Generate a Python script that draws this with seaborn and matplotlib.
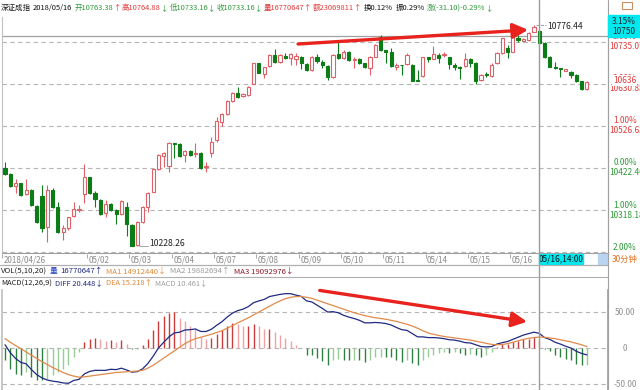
import numpy as np
import pandas as pd
import seaborn as sns
import matplotlib.pyplot as plt
import matplotlib.transforms as mtransforms
from matplotlib.lines import Line2D
from matplotlib.patches import Rectangle

sns.set_theme(style="white")
plt.rcParams['font.family'] = ['Noto Sans CJK SC', 'DejaVu Sans']
plt.rcParams['axes.unicode_minus'] = False

# 30-minute bars, 2018/04/26 .. 2018/05/17
opens = [10422, 10408, 10378, 10384, 10358, 10368, 10328, 10353, 10277, 10369,
         10325, 10263, 10273, 10304, 10318, 10358, 10399, 10361, 10343, 10310,
         10333, 10318, 10308, 10326, 10281, 10232, 10289, 10326, 10364, 10419,
         10452, 10427, 10484, 10482, 10455, 10465, 10457, 10460, 10424, 10460,
         10492, 10537, 10556, 10589, 10609, 10600, 10604, 10632, 10682, 10656,
         10676, 10703, 10686, 10701, 10695, 10692, 10699, 10680, 10666, 10697,
         10686, 10676, 10647, 10705, 10695, 10711, 10690, 10694, 10682, 10670,
         10699, 10748, 10714, 10711, 10674, 10678, 10680, 10678, 10641, 10651,
         10697, 10694, 10703, 10702, 10697, 10678, 10674, 10676, 10692, 10684,
         10641, 10655, 10651, 10682, 10707, 10719, 10711, 10744, 10738, 10740,
         10761, 10763.38, 10732, 10699, 10674, 10670, 10664, 10661, 10653, 10637,
         10618]
highs = [10438, 10410, 10394, 10386, 10394, 10370, 10330, 10380, 10380, 10372,
         10339, 10281, 10302, 10339, 10331, 10432, 10401, 10366, 10345, 10343,
         10336, 10320, 10343, 10339, 10283, 10291, 10328, 10362, 10421, 10457,
         10461, 10488, 10485, 10484, 10466, 10468, 10484, 10462, 10438, 10500,
         10550, 10558, 10591, 10611, 10624, 10608, 10626, 10684, 10684, 10674,
         10705, 10717, 10705, 10707, 10707, 10707, 10700, 10682, 10701, 10705,
         10690, 10678, 10705, 10740, 10715, 10713, 10697, 10696, 10684, 10700,
         10730, 10752, 10716, 10719, 10684, 10679, 10707, 10680, 10665, 10699,
         10699, 10724, 10707, 10709, 10699, 10682, 10675, 10707, 10695, 10686,
         10655, 10661, 10682, 10709, 10746, 10728, 10749, 10752, 10745, 10759,
         10776.44, 10764.88, 10734, 10701, 10686, 10671, 10669, 10663, 10655, 10639,
         10638]
lows = [10404, 10375, 10360, 10353, 10355, 10328, 10285, 10264, 10240, 10322,
        10260, 10244, 10268, 10302, 10313, 10336, 10359, 10326, 10306, 10300,
        10316, 10283, 10306, 10254, 10229, 10228.26, 10287, 10314, 10362, 10417,
        10426, 10413, 10446, 10450, 10438, 10452, 10450, 10420, 10413, 10450,
        10488, 10527, 10554, 10587, 10595, 10598, 10602, 10630, 10657, 10645,
        10674, 10684, 10684, 10692, 10678, 10678, 10667, 10664, 10664, 10684,
        10670, 10641, 10645, 10693, 10692, 10688, 10670, 10680, 10670, 10653,
        10697, 10713, 10684, 10674, 10666, 10653, 10678, 10637, 10637, 10649,
        10686, 10692, 10684, 10699, 10667, 10666, 10642, 10674, 10674, 10632,
        10639, 10649, 10647, 10680, 10705, 10695, 10709, 10736, 10736, 10738,
        10759, 10733.16, 10695, 10672, 10668, 10649, 10662, 10645, 10635, 10616,
        10616]
closes = [10408, 10378, 10384, 10355, 10368, 10331, 10289, 10273, 10369, 10326,
          10264, 10273, 10300, 10320, 10320, 10401, 10361, 10345, 10308, 10333,
          10318, 10308, 10341, 10283, 10230, 10289, 10326, 10361, 10419, 10455,
          10459, 10485, 10482, 10452, 10465, 10455, 10460, 10422, 10427, 10488,
          10540, 10556, 10589, 10609, 10598, 10606, 10624, 10682, 10659, 10672,
          10703, 10686, 10703, 10695, 10705, 10700, 10682, 10666, 10699, 10689,
          10678, 10647, 10703, 10695, 10711, 10690, 10694, 10682, 10672, 10699,
          10728, 10715, 10711, 10676, 10678, 10677, 10703, 10639, 10639, 10697,
          10692, 10704, 10695, 10704, 10680, 10674, 10670, 10692, 10682, 10637,
          10653, 10652, 10678, 10707, 10744, 10711, 10747, 10740, 10742, 10757,
          10773, 10733.16, 10699, 10674, 10670, 10669, 10667, 10653, 10637, 10618,
          10636]

diff = [4.5, -6.5, -14.5, -20, -22, -30, -37, -41.5, -44.5, -46,
        -47, -48.5, -49, -45, -43.5, -36, -32.5, -31, -31, -31,
        -29.5, -30, -28, -30.5, -33.5, -32.8, -29, -21.5, -11.5, 0,
        8, 15.5, 21, 22, 25, 25.5, 26.5, 23, 23, 26,
        31.5, 36.5, 43, 48.5, 52, 54, 57.5, 63, 65.5, 67.5,
        71.5, 73, 74.5, 75.5, 75.5, 73.5, 71.8, 65.5, 64, 59.5,
        55, 50, 50.5, 49, 45.5, 43, 41, 38.5, 35, 35,
        35.5, 35, 34, 32, 28.5, 25.5, 24.5, 20, 15.5, 15.5,
        14.5, 14.5, 14, 13, 11.5, 11, 9.5, 7.5, 7, 4.5,
        2, 1.5, 2, 5.5, 7.5, 9, 12, 15, 18, 20,
        22, 20.448, 14.5, 12, 8, 5.5, 2.5, 0, -4.5, -7.5,
        -9.5]
dea = [13, 8, 3.5, -1, -5.5, -10, -14.5, -19, -23, -27,
       -30.5, -34, -37, -39, -40.5, -40, -39, -38, -37, -36,
       -35, -34, -33.5, -33, -32.5, -32, -31, -28, -24, -19,
       -14, -9, -4, 1, 6, 10, 13, 15, 17, 19,
       21.5, 24, 27.5, 31, 35, 38.5, 42, 46, 50, 54,
       58, 62, 65.5, 68.5, 70.5, 71.5, 71.5, 70.5, 69, 66.5,
       64, 61.5, 59, 56.5, 54, 51.5, 49, 47, 45, 43.5,
       42, 41, 40, 38.5, 37, 35, 33, 30.5, 27.5, 24,
       21, 19, 17.5, 16, 15, 14, 13, 12, 11, 9.5,
       8, 6.5, 5, 4.5, 5, 6, 8, 10, 12, 13.5,
       14.5, 15.218, 15, 14, 13, 11.5, 10, 8.5, 6.5, 4.5,
       2]
macd = [-17, -29, -36, -38, -33, -40, -45, -45, -43, -38,
        -33, -29, -24, -12, -6, 8, 13, 14, 12, 10,
        11, 8, 11, 5, -2, -1.5, 4, 13, 25, 38,
        44, 49, 50, 42, 38, 31, 27, 16, 12, 14,
        20, 25, 31, 35, 34, 31, 31, 34, 31, 27,
        27, 22, 18, 14, 10, 4, 0.5, -10, -10, -14,
        -18, -23, -17, -15, -17, -17, -16, -17, -20, -17,
        -13, -12, -12, -13, -17, -19, -17, -21, -24, -17,
        -13, -9, -7, -6, -7, -6, -7, -9, -8, -10,
        -12, -10, -6, 2, 5, 6, 8, 10, 12, 13,
        15, 10.461, -1, -4, -10, -12, -15, -17, -22, -24,
        -23]

day_starts = [0, 16, 24, 32, 40, 48, 56, 64, 72, 80, 88, 96]
day_labels = ['2018/04/26', '05/02', '05/03', '05/04', '05/07', '05/08',
              '05/09', '05/10', '05/11', '05/14', '05/15', '05/16']

price_levels = [10735.07, 10630.85, 10526.62, 10422.40, 10318.18, 10213.96]
pct_labels = ['3.00%', '2.00%', '1.00%', '0.00%', '1.00%', '2.00%']
macd_levels = [50, 0, -50]
macd_labels = ['50.00', '0', '-50.00']

cursor_i = 101
cursor_price = 10750
last_price = 10636

RED = '#e06068'
GREEN = '#0c7c16'
TXT_RED = '#e03a3a'
TXT_GREEN = '#2f9a3a'
GRID = '#b5b5b5'

W, H = 640, 390
fig = plt.figure(figsize=(W / 100, H / 100), dpi=100)
fig.patch.set_facecolor('white')


def px_axes(x0, y0, x1, y1):
    return fig.add_axes([x0 / W, 1 - y1 / H, (x1 - x0) / W, (y1 - y0) / H])


ax = px_axes(2, 17, 608, 253)
ax_d = px_axes(2, 253, 608, 265)
ax_m = px_axes(2, 290, 608, 390)
XL = (-0.57, 114.0)

df = pd.DataFrame({'open': opens, 'high': highs, 'low': lows, 'close': closes})
df['i'] = np.arange(len(df))
up = (df['close'] >= df['open']).to_numpy()
edge = np.where(up, RED, GREEN)

# ---- price panel
ax.vlines(df['i'], df['low'], df['high'], colors=edge, lw=0.8, zorder=2)
ax.bar(df['i'], (df['close'] - df['open']).abs().clip(lower=0.6),
       bottom=df[['open', 'close']].min(axis=1), width=0.6,
       color=np.where(up, 'white', GREEN), edgecolor=edge, linewidth=0.8, zorder=3)
for lv in price_levels:
    ax.axhline(lv, color=GRID, lw=0.8, ls=(0, (4, 3)), zorder=1)
ax.axhline(cursor_price, color='#a0a0a0', lw=0.9, zorder=1)
ax.set_xlim(*XL)
ax.set_ylim(10211.5, 10797)
ax.set_xticks([])
ax.set_yticks([])
for s in ['top', 'bottom']:
    ax.spines[s].set_visible(False)
ax.spines['left'].set_color('#c0c0c0')
ax.spines['right'].set_color('#a0a0a0')
for s in ax.spines.values():
    s.set_linewidth(0.8)

lo_i = int(np.argmin(lows))
hi_i = int(np.argmax(highs))
ax.plot([lo_i + 0.3, lo_i + 2.0], [lows[lo_i]] * 2, color='#999999', lw=0.6)
ax.text(lo_i + 2.2, lows[lo_i] + 7, f'{lows[lo_i]:.2f}', fontsize=6.2, va='center', color='#222222')
ax.plot([hi_i + 0.3, hi_i + 2.2], [highs[hi_i]] * 2, color='#999999', lw=0.6, ls='--')
ax.text(hi_i + 2.5, highs[hi_i] - 4, f'{highs[hi_i]:.2f}', fontsize=6.2, va='center', color='#222222')

ax.annotate('', xy=(98.9, 10765), xytext=(55.4, 10730),
            arrowprops=dict(arrowstyle='-|>,head_length=0.9,head_width=0.45',
                            color='#e8231e', lw=2.4, mutation_scale=10, shrinkA=0, shrinkB=0))

trans = mtransforms.blended_transform_factory(fig.transFigure, ax.transData)
for k, (lv, pl) in enumerate(zip(price_levels, pct_labels)):
    c = TXT_RED if k < 3 else TXT_GREEN
    ax.annotate(pl, xy=(625 / W, lv), xycoords=trans, xytext=(0, 5), textcoords='offset pixels',
                ha='center', va='center', fontsize=6, color=c, annotation_clip=False)
    if k < 5:
        ax.annotate(f'{lv:.2f}', xy=(609 / W, lv), xycoords=trans, xytext=(0, -5),
                    textcoords='offset pixels', ha='left', va='center', fontsize=6,
                    color=c, annotation_clip=False)
ax.annotate(f'{last_price}', xy=(613 / W, last_price), xycoords=trans, xytext=(0, 1),
            textcoords='offset pixels', ha='left', va='center',
            fontsize=6, color=TXT_RED, annotation_clip=False,
            bbox=dict(boxstyle='square,pad=0.12', fc='white', ec='none'))

# ---- date strip
ax_d.set_xlim(*XL)
ax_d.set_ylim(0, 1)
ax_d.set_xticks([])
ax_d.set_yticks([])
for s in ['left', 'right']:
    ax_d.spines[s].set_visible(False)
for s in ['top', 'bottom']:
    ax_d.spines[s].set_color('#a0a0a0')
    ax_d.spines[s].set_linewidth(0.8)
for d, lab in zip(day_starts, day_labels):
    ax_d.vlines(d - 0.5, 0.55, 0.95, color='#999999', lw=0.6)
    ax_d.text(d - 0.2, 0.42, lab, fontsize=5.8, color='#8a8a8a', ha='left', va='center')
ax_d.add_patch(Rectangle((cursor_i, 0.1), 44 / 5.29, 0.8, color='#00e8f0', zorder=3))
ax_d.text(cursor_i + 22 / 5.29, 0.5, '05/16,14:00', fontsize=6, ha='center', va='center', zorder=4,
          color='#111111')
ax_d.add_patch(Rectangle((112.1, 0.1), 1.9, 0.8, color='#b9d3f0', zorder=3))
fig.text(612 / W, 1 - 259.5 / H, '30分钟', fontsize=6, color='#e07020', va='center')

# ---- MACD panel
mdf = pd.DataFrame({'i': df['i'], 'DIFF': diff, 'DEA': dea})
long = mdf.melt(id_vars='i', var_name='line', value_name='v')
hist_cols = []
for k, v in enumerate(macd):
    prev = macd[k - 1] if k > 0 else 0
    if v >= 0:
        hist_cols.append('#cc3b3b' if v >= prev else '#f0a2a2')
    else:
        hist_cols.append('#2e8040' if v <= prev else '#98cc98')
ax_m.vlines(df['i'], 0, macd, colors=hist_cols, lw=1.0, zorder=2)
sns.lineplot(data=long, x='i', y='v', hue='line', palette={'DIFF': '#1f2a80', 'DEA': '#e08a4a'},
             ax=ax_m, legend=False, linewidth=0.9, zorder=3)
for lv in macd_levels:
    ax_m.axhline(lv, color=GRID, lw=0.8, ls=(0, (4, 3)), zorder=1)
ax_m.set_xlim(*XL)
ax_m.set_ylim(-58.3, 80.6)
ax_m.set_xticks([])
ax_m.set_yticks([])
ax_m.set_xlabel('')
ax_m.set_ylabel('')
for s in ['top', 'bottom']:
    ax_m.spines[s].set_visible(False)
ax_m.spines['left'].set_color('#c0c0c0')
ax_m.spines['right'].set_color('#a0a0a0')
transm = mtransforms.blended_transform_factory(fig.transFigure, ax_m.transData)
for lv, lab in zip(macd_levels, macd_labels):
    ax_m.text(625 / W, lv, lab, transform=transm, ha='center', va='center', fontsize=6,
              color='#909090', clip_on=False)
ax_m.annotate('', xy=(98.7, 36.5), xytext=(59.5, 80),
              arrowprops=dict(arrowstyle='-|>,head_length=0.9,head_width=0.45',
                              color='#e8231e', lw=2.4, mutation_scale=10, shrinkA=0, shrinkB=0),
              annotation_clip=False)

# ---- crosshair and frame lines
xfig = mtransforms.blended_transform_factory(ax.transData, fig.transFigure)
fig.add_artist(Line2D([cursor_i, cursor_i], [0, 1], transform=xfig, color='#9a9a9a', lw=1.0))
fig.add_artist(Line2D([608 / W, 608 / W], [0, 1], transform=fig.transFigure, color='#a0a0a0', lw=0.8))
for yy in [265, 277]:
    fig.add_artist(Line2D([0, 608 / W], [1 - yy / H] * 2, transform=fig.transFigure,
                          color='#b0b0b0', lw=0.8))
fig.patches.append(Rectangle((608 / W, 1 - 37 / H), 32 / W, 22 / H, transform=fig.transFigure,
                             color='#00e8f0', zorder=3))
fig.text(624 / W, 1 - 21 / H, '3.15%', fontsize=6, ha='center', va='center', zorder=4)
fig.text(624 / W, 1 - 31 / H, f'{cursor_price}', fontsize=6, ha='center', va='center', zorder=4)
fig.patches.append(Rectangle((622 / W, 1 - 9 / H), 10 / W, 7 / H, transform=fig.transFigure,
                             fill=False, ec='#c89060', lw=0.8))

# ---- header rows
renderer = fig.canvas.get_renderer()


def text_row(y_px, parts, x_px=1, size=5.8):
    x = x_px
    for s, c, g in parts:
        t = fig.text(x / W, 1 - y_px / H, s, color=c, fontsize=size, va='center', ha='left')
        x += t.get_window_extent(renderer=renderer).width + g


text_row(8, [('深证成指', '#111111', 2), ('2018/05/16', '#111111', 2.5),
             ('开10763.38', TXT_GREEN, 0.2), ('↑', TXT_RED, 0.8),
             ('高10764.88', TXT_RED, 0.2), ('↓', TXT_GREEN, 0.8),
             ('低10733.16', TXT_GREEN, 0.2), ('↓', TXT_GREEN, 0.8),
             ('收10733.16', TXT_GREEN, 0.2), ('↓', TXT_GREEN, 0.8),
             ('量16770647', TXT_RED, 0.2), ('↑', TXT_RED, 0.8),
             ('额23069811', TXT_RED, 0.2), ('↑', TXT_RED, 2.5),
             ('换0.12%', '#111111', 2.5), ('振0.29%', '#111111', 2.5),
             ('涨(-31.10)-0.29%', TXT_GREEN, 0.2), ('↓', TXT_GREEN, 0)], size=5.4)
text_row(271.5, [('VOL(5,10,20)', '#222222', 3), ('量', '#2040c0', 2),
                 ('16770647↑', '#1f2a80', 4), ('MA1 14912440↓', '#e08a3a', 4),
                 ('MA2 19882694↑', '#9a9a9a', 4), ('MA3 19092976↓', '#8b1a2a', 0)], size=5.6)
text_row(283.5, [('MACD(12,26,9)', '#222222', 3), ('DIFF 20.448↓', '#1f2a80', 3),
                 ('DEA 15.218↑', '#e08a3a', 3), ('MACD 10.461↓', '#a0a0a0', 0)], size=5.4)

fig.savefig('out.png', dpi=100)
